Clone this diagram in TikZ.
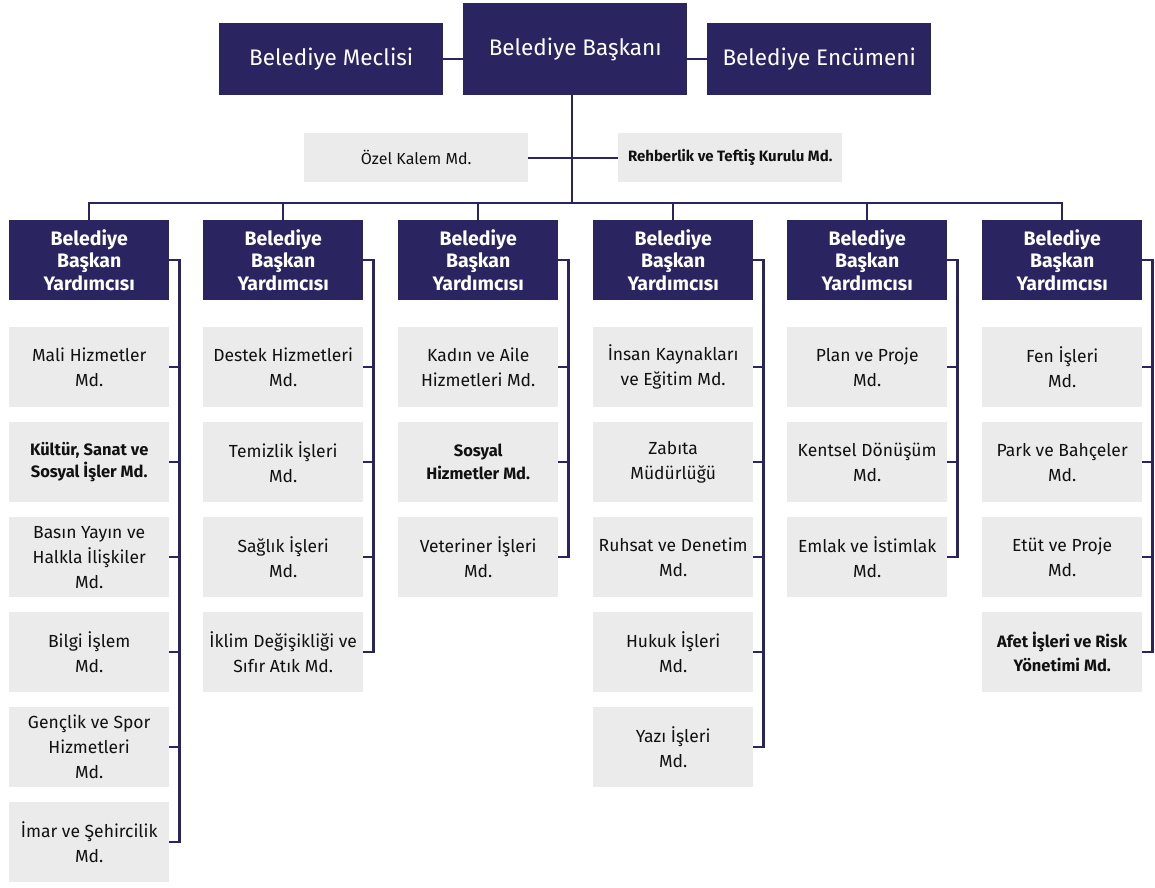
\documentclass[tikz,border=0pt]{standalone}
\usepackage{fontspec}
\setmainfont{Fira Sans}
\definecolor{navy}{HTML}{2A2560}
\definecolor{gbox}{HTML}{EBEBEB}
\definecolor{txt}{HTML}{111111}
\begin{document}
\begin{tikzpicture}[x=1pt,y=-1pt,
 topbox/.style={fill=navy,text=white,anchor=north west,minimum width=224pt,inner sep=0pt,align=center,font=\fontsize{22.5}{26}\selectfont},
 vbox/.style={fill=navy,text=white,anchor=north west,minimum width=160pt,minimum height=80pt,inner sep=0pt,align=center,font=\bfseries\fontsize{19.5}{22.5}\selectfont},
 mbox/.style={fill=gbox,text=txt,anchor=north west,minimum width=160pt,minimum height=80pt,inner sep=0pt,align=center,font=\fontsize{17.5}{25}\selectfont},
 sbox/.style={fill=gbox,text=txt,anchor=north west,minimum width=224pt,minimum height=49pt,inner sep=0pt,align=center,font=\fontsize{16}{18}\selectfont},
 link/.style={draw=navy,line width=2.2pt}]
\useasboundingbox (0,0) rectangle (1155,887);
% top level
\node[topbox,minimum height=72pt] (meclis) at (219,23) {Belediye Meclisi};
\node[topbox,minimum height=92pt] (baskan) at (463,3) {Belediye Başkanı};
\node[topbox,minimum height=72pt] (encumen) at (707,23) {Belediye Encümeni};
\node[sbox] (ozel) at (304,133) {Özel Kalem Md.};
\node[sbox,font=\bfseries\fontsize{15}{18}\selectfont] (rehber) at (618,133) {Rehberlik ve Teftiş Kurulu Md.};
% headers
\node[vbox] (h1) at (9,220) {Belediye\\Başkan\\Yardımcısı};
\node[vbox] (h2) at (203,220) {Belediye\\Başkan\\Yardımcısı};
\node[vbox] (h3) at (398,220) {Belediye\\Başkan\\Yardımcısı};
\node[vbox] (h4) at (593,220) {Belediye\\Başkan\\Yardımcısı};
\node[vbox] (h5) at (787,220) {Belediye\\Başkan\\Yardımcısı};
\node[vbox] (h6) at (982,220) {Belediye\\Başkan\\Yardımcısı};
% column 1
\node[mbox] (a1) at (9,327) {Mali Hizmetler\\Md.};
\node[mbox,font=\bfseries\fontsize{16.5}{22}\selectfont] (a2) at (9,422) {Kültür, Sanat ve\\Sosyal İşler Md.};
\node[mbox] (a3) at (9,517) {Basın Yayın ve\\Halkla İlişkiler\\Md.};
\node[mbox] (a4) at (9,612) {Bilgi İşlem\\Md.};
\node[mbox] (a5) at (9,707) {Gençlik ve Spor\\Hizmetleri\\Md.};
\node[mbox] (a6) at (9,802) {İmar ve Şehircilik\\Md.};
% column 2
\node[mbox] (b1) at (203,327) {Destek Hizmetleri\\Md.};
\node[mbox] (b2) at (203,422) {Temizlik İşleri\\Md.};
\node[mbox] (b3) at (203,517) {Sağlık İşleri\\Md.};
\node[mbox] (b4) at (203,612) {İklim Değişikliği ve\\Sıfır Atık Md.};
% column 3
\node[mbox] (c1) at (398,327) {Kadın ve Aile\\Hizmetleri Md.};
\node[mbox,font=\bfseries\fontsize{16.5}{23}\selectfont] (c2) at (398,422) {Sosyal\\Hizmetler Md.};
\node[mbox] (c3) at (398,517) {Veteriner İşleri\\Md.};
% column 4
\node[mbox] (d1) at (593,327) {İnsan Kaynakları\\ve Eğitim Md.};
\node[mbox] (d2) at (593,422) {Zabıta\\Müdürlüğü};
\node[mbox] (d3) at (593,517) {Ruhsat ve Denetim\\Md.};
\node[mbox] (d4) at (593,612) {Hukuk İşleri\\Md.};
\node[mbox] (d5) at (593,707) {Yazı İşleri\\Md.};
% column 5
\node[mbox] (e1) at (787,327) {Plan ve Proje\\Md.};
\node[mbox] (e2) at (787,422) {Kentsel Dönüşüm\\Md.};
\node[mbox] (e3) at (787,517) {Emlak ve İstimlak\\Md.};
% column 6
\node[mbox] (f1) at (982,327) {Fen İşleri\\Md.};
\node[mbox] (f2) at (982,422) {Park ve Bahçeler\\Md.};
\node[mbox] (f3) at (982,517) {Etüt ve Proje\\Md.};
\node[mbox,font=\bfseries\fontsize{16.5}{24}\selectfont] (f4) at (982,612) {Afet İşleri ve Risk\\Yönetimi Md.};
% connectors at top
\coordinate (bus) at (0,203);
\draw[link] (meclis.east) -- (meclis.east -| baskan.west);
\draw[link] (encumen.west) -- (encumen.west -| baskan.east);
\draw[link] (baskan.south) ++(-3,0) coordinate (bdrop) -- (bdrop |- bus);
\draw[link] (ozel.east) -- (rehber.west);
\draw[link] (h1.north) -- (h1.north |- bus) -- (h6.north |- bus) -- (h6.north);
\foreach \h in {h2,h3,h4,h5} \draw[link] (\h.north) -- (\h.north |- bus);
% brackets
\draw[link] (h1.east) -- ++(10,0) coordinate (k1) |- (a6.east);
\foreach \n in {a1,a2,a3,a4,a5} \draw[link] (\n.east) -- (\n.east -| k1);
\draw[link] (h2.east) -- ++(10,0) coordinate (k2) |- (b4.east);
\foreach \n in {b1,b2,b3} \draw[link] (\n.east) -- (\n.east -| k2);
\draw[link] (h3.east) -- ++(10,0) coordinate (k3) |- (c3.east);
\foreach \n in {c1,c2} \draw[link] (\n.east) -- (\n.east -| k3);
\draw[link] (h4.east) -- ++(10,0) coordinate (k4) |- (d5.east);
\foreach \n in {d1,d2,d3,d4} \draw[link] (\n.east) -- (\n.east -| k4);
\draw[link] (h5.east) -- ++(10,0) coordinate (k5) |- (e3.east);
\foreach \n in {e1,e2} \draw[link] (\n.east) -- (\n.east -| k5);
\draw[link] (h6.east) -- ++(10,0) coordinate (k6) |- (f4.east);
\foreach \n in {f1,f2,f3} \draw[link] (\n.east) -- (\n.east -| k6);
\end{tikzpicture}
\end{document}
